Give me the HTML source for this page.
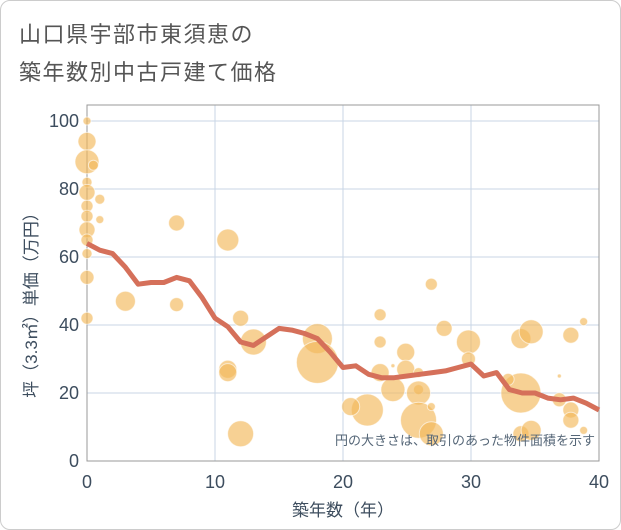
<!DOCTYPE html>
<html><head><meta charset="utf-8"><style>
body{margin:0;background:#fff;}
#wrap{position:relative;width:619px;height:528px;border:1px solid #ccc;border-radius:10px;overflow:hidden;background:#fff;font-family:"Liberation Sans","Noto Sans CJK JP",sans-serif;}
.title{position:absolute;left:18px;font-size:22px;color:#555;letter-spacing:1.5px;}
</style></head><body>
<div id="wrap">
<div class="title" style="top:16px">山口県宇部市東須恵の</div>
<div class="title" style="top:54px">築年数別中古戸建て価格</div>
<svg id="chart" width="621" height="530" style="position:absolute;left:0;top:0"></svg>
</div>
<script>
const xTicks=[0,10,20,30,40];
const yTicks=[0,20,40,60,80,100];
const bubX=[0,0,0,0.5,0,1,0,0,1,0,0,0,0,0,0,3,7,7,11,11,11,12,13,18,18,12,26.9,22.9,27.9,29.8,29.8,22.9,24.9,24.9,23.9,22.9,25.9,23.9,25.9,25.9,21.9,20.6,25.9,26.9,26.9,33.9,34.7,37.8,38.8,33.9,36.9,36.9,37.8,37.8,38.8,33.9,34.7,32.9];
const bubY=[100,94,88,87,82,77,75,72,71,68,65,61,54,42,79,47,70,46,65,27,26,42,35,36,29,8,52,43,39,35,30,35,32,27,28,26,26,21,21,20,15,16,12,8,16,36,38,37,41,20,25,18,15,12,9,8,9,24];
const bubR=[4,9,12,5,5,5,6,6,4,8,6,5,7,6,8,10,8,7,11,9,9,8,13,15,21,13,6,6,8,12,7,6,9,9,2,9,5,12,5,12,16,9,18,12,4,10,12,8,4,20,2,7,8,8,4,8,10,6];
const lineX=[0,1,2,3,4,5,6,7,8,9,10,11,12,13,14,15,16,17,18,19,20,21,22,23,24,25,26,27,28,29,30,31,32,33,34,35,36,37,38,39,40];
const lineY=[64,62,61,57,52,52.5,52.5,54,53,48,42,39.5,35,34,36.5,39,38.5,37.5,36,32,27.5,28,25.5,24.5,24.5,25,25.5,26,26.5,27.5,28.5,25,26,21,20,20,18.5,18,18.5,17,15];
const L=86,R=598,T=104,B=460;
const sx=v=>L+(v/40)*(R-L);
const sy=v=>B-(v/100)*340;
const svg=document.getElementById('chart');
const NS='http://www.w3.org/2000/svg';
function mk(t,a){const e=document.createElementNS(NS,t);for(const k in a)e.setAttribute(k,a[k]);svg.appendChild(e);return e;}
let e;
xTicks.forEach(v=>{e=mk('line',{x1:sx(v),x2:sx(v),y1:T,y2:B,stroke:'#c8d6e5','stroke-width':1});


e=mk('text',{x:sx(v),y:B+27,'text-anchor':'middle','font-size':18,fill:'#3d4d5e'});e.textContent=v;

});
yTicks.forEach(v=>{e=mk('line',{x1:L,x2:R,y1:sy(v),y2:sy(v),stroke:'#c8d6e5','stroke-width':1});


e=mk('text',{x:L-8,y:sy(v)+6,'text-anchor':'end','font-size':18,fill:'#3d4d5e'});e.textContent=v;

});
e=mk('rect',{x:L,y:T,width:R-L,height:B-T,fill:'none',stroke:'#999','stroke-width':1});


bubX.forEach((x,i)=>{e=mk('circle',{cx:sx(x),cy:sy(bubY[i]),r:bubR[i],fill:'rgba(242,185,90,0.65)',stroke:'rgba(255,255,255,0.6)','stroke-width':1});

});
e=mk('polyline',{points:lineX.map((x,i)=>sx(x)+','+sy(lineY[i])).join(' '),fill:'none',stroke:'#d5705a','stroke-width':5,'stroke-linejoin':'round'});


e=mk('text',{x:594,y:444,'text-anchor':'end','font-size':13,fill:'#556677'});e.textContent='円の大きさは、取引のあった物件面積を示す';


e=mk('text',{x:342,y:515,'text-anchor':'middle','font-size':17,fill:'#3d4d5e'});e.textContent='築年数（年）';


e=mk('text',{x:0,y:0,'text-anchor':'middle','font-size':17,fill:'#3d4d5e',transform:'translate(36,300) rotate(-90)'});e.textContent='坪（3.3㎡）単価（万円）';


</script>
</body></html>
